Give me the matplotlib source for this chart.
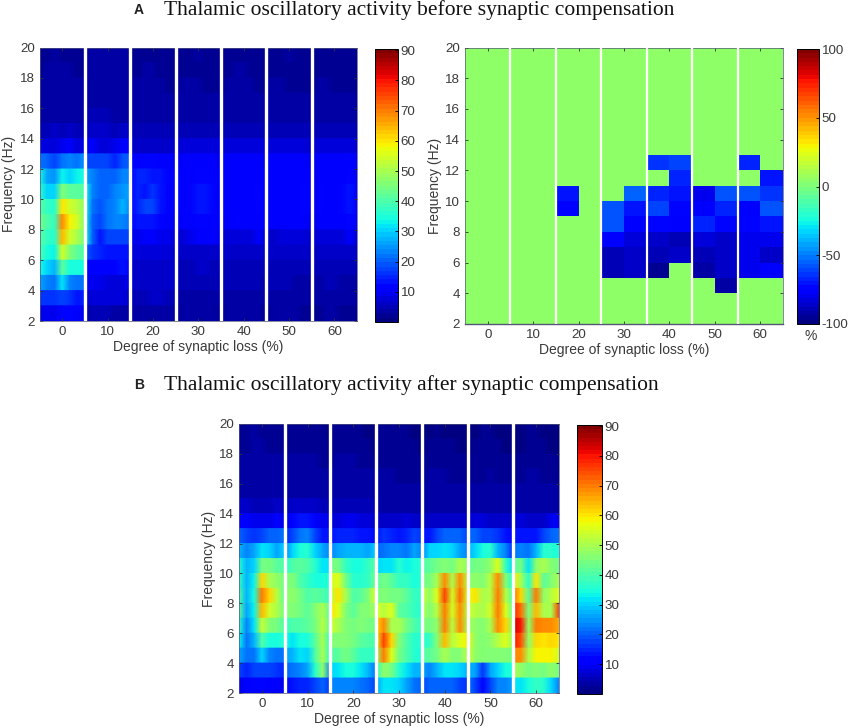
import numpy as np
import matplotlib
matplotlib.use('Agg')
import matplotlib.pyplot as plt

W, H = 851, 728

# every group: rows from the 19-20 Hz band down to the 2-3 Hz band
before_0 = [
    [2, 2, 3, 2, 2, 2, 2], [2, 3, 3, 3, 3, 2, 2], [3, 3, 3, 3, 3, 3, 3], [3, 3, 3, 3, 3, 3, 3],
    [3, 4, 4, 4, 4, 4, 3], [5, 5, 6, 5, 6, 5, 5], [9, 8, 8, 9, 10, 8, 9], [22, 20, 18, 22, 24, 22, 25],
    [34, 26, 25, 33, 30, 33, 35], [38, 31, 30, 46, 42, 42, 40], [42, 38, 36, 60, 54, 52, 48],
    [44, 40, 38, 68, 58, 54, 46], [42, 38, 36, 64, 54, 50, 44], [40, 35, 33, 55, 46, 42, 40],
    [35, 30, 28, 42, 34, 35, 35], [26, 23, 22, 32, 24, 22, 22], [16, 16, 16, 18, 16, 14, 15],
    [9, 9, 9, 12, 12, 10, 9]]
before_10 = [
    [3, 3, 3, 3, 3, 3, 3], [3, 3, 4, 4, 3, 3, 3], [3, 3, 4, 4, 3, 3, 3], [4, 4, 4, 4, 4, 4, 4],
    [5, 5, 5, 5, 4, 4, 4], [6, 6, 6, 6, 5, 6, 6], [9, 10, 8, 8, 9, 10, 10], [17, 18, 17, 17, 15, 19, 20],
    [26, 24, 20, 20, 21, 23, 24], [34, 24, 21, 20, 24, 25, 26], [34, 22, 19, 22, 24, 27, 24],
    [35, 21, 18, 22, 23, 24, 22], [35, 20, 14, 17, 17, 18, 18], [21, 16, 15, 14, 14, 14, 13],
    [12, 11, 11, 10, 10, 14, 11], [10, 9, 9, 8, 8, 8, 9], [7, 8, 8, 8, 8, 8, 7], [4, 5, 5, 5, 4, 4, 4]]
before_20 = [
    [2, 2, 2, 2, 2, 2, 2], [2, 2, 3, 3, 2, 2, 2], [3, 3, 3, 3, 3, 2, 2], [3, 3, 3, 3, 3, 3, 3],
    [4, 4, 4, 4, 3, 3, 3], [5, 5, 5, 5, 5, 5, 5], [7, 7, 7, 7, 7, 6, 6], [10, 11, 12, 12, 11, 10, 9],
    [11, 15, 15, 14, 14, 12, 10], [11, 15, 14, 16, 14, 11, 10], [11, 15, 17, 18, 14, 11, 10],
    [11, 13, 14, 14, 12, 10, 9], [9, 9, 11, 10, 9, 9, 8], [8, 8, 8, 8, 8, 8, 7], [7, 7, 7, 7, 7, 7, 6],
    [6, 7, 7, 6, 6, 6, 6], [5, 5, 5, 6, 6, 5, 5], [3, 3, 4, 4, 3, 3, 3]]
before_30 = [
    [2, 2, 2, 3, 2, 2, 2], [2, 2, 2, 2, 2, 2, 2], [2, 3, 3, 3, 2, 2, 2], [3, 3, 3, 3, 3, 3, 3],
    [3, 3, 3, 3, 3, 3, 3], [5, 5, 5, 5, 5, 5, 5], [7, 8, 8, 8, 8, 8, 8], [9, 10, 10, 10, 10, 10, 9],
    [10, 11, 11, 12, 12, 11, 10], [10, 11, 12, 13, 13, 12, 11], [10, 11, 12, 13, 13, 12, 11],
    [9, 10, 11, 12, 12, 11, 10], [7, 8, 9, 10, 10, 10, 9], [6, 6, 6, 7, 7, 6, 6], [5, 5, 5, 6, 6, 5, 5],
    [5, 5, 5, 5, 5, 5, 5], [4, 4, 4, 4, 4, 4, 4], [2, 3, 3, 3, 3, 3, 2]]
before_40 = [
    [2, 2, 2, 2, 2, 2, 2], [2, 2, 3, 3, 2, 2, 2], [2, 3, 3, 3, 3, 2, 2], [3, 3, 3, 3, 3, 3, 3],
    [3, 3, 3, 3, 3, 3, 3], [5, 5, 5, 5, 5, 5, 5], [8, 8, 8, 8, 8, 8, 8], [10, 10, 10, 10, 10, 10, 9],
    [10, 11, 10, 10, 11, 11, 10], [10, 11, 10, 10, 11, 12, 10], [10, 11, 10, 10, 11, 12, 10],
    [9, 10, 10, 10, 10, 11, 10], [7, 8, 8, 8, 8, 10, 7], [6, 6, 6, 6, 6, 6, 6], [5, 5, 5, 5, 5, 5, 5],
    [5, 5, 5, 5, 5, 5, 4], [4, 4, 4, 4, 4, 4, 4], [2, 3, 3, 3, 3, 3, 2]]
before_50 = [
    [2, 2, 2, 3, 2, 2, 2], [2, 2, 2, 2, 2, 2, 2], [3, 3, 3, 2, 2, 2, 2], [3, 3, 3, 3, 3, 3, 3],
    [3, 3, 3, 3, 3, 3, 3], [5, 5, 5, 5, 5, 5, 5], [8, 8, 8, 8, 8, 8, 7], [10, 10, 10, 10, 10, 10, 9],
    [10, 10, 10, 11, 11, 11, 10], [11, 10, 11, 11, 11, 12, 10], [11, 10, 11, 11, 11, 12, 10],
    [10, 10, 10, 10, 10, 11, 9], [7, 7, 8, 8, 8, 8, 7], [6, 6, 6, 6, 6, 6, 6], [5, 5, 5, 5, 5, 5, 5],
    [5, 5, 5, 5, 4, 4, 4], [4, 4, 4, 4, 4, 3, 3], [2, 3, 3, 3, 3, 2, 2]]
before_60 = [
    [2, 2, 2, 2, 2, 2, 2], [2, 2, 2, 2, 2, 2, 2], [2, 3, 3, 2, 2, 2, 2], [3, 3, 3, 3, 3, 3, 3],
    [3, 3, 3, 3, 3, 3, 3], [5, 5, 5, 5, 5, 5, 5], [7, 8, 8, 8, 8, 8, 8], [9, 10, 10, 10, 10, 10, 10],
    [9, 11, 11, 10, 11, 12, 11], [9, 12, 11, 10, 12, 13, 11], [9, 12, 11, 10, 12, 13, 11],
    [8, 11, 10, 10, 11, 12, 11], [6, 8, 8, 8, 8, 10, 8], [5, 6, 6, 6, 6, 6, 6], [5, 5, 5, 5, 5, 5, 5],
    [4, 4, 5, 5, 4, 4, 4], [3, 4, 4, 4, 4, 4, 4], [2, 2, 3, 3, 2, 2, 2]]

after_0 = [
    [2, 2, 3, 2, 2, 2, 2], [2, 2, 3, 3, 2, 2, 2], [3, 3, 3, 3, 3, 3, 3], [3, 3, 3, 3, 3, 3, 3],
    [4, 4, 4, 4, 4, 4, 4], [6, 6, 5, 5, 5, 6, 5], [11, 10, 9, 9, 9, 10, 9], [20, 18, 16, 18, 20, 20, 22],
    [28, 24, 26, 32, 30, 26, 30], [36, 28, 30, 44, 44, 42, 40], [38, 28, 33, 62, 50, 48, 44],
    [40, 28, 34, 70, 62, 52, 42], [42, 26, 33, 64, 55, 50, 44], [36, 24, 32, 53, 46, 44, 40],
    [33, 22, 28, 40, 34, 34, 36], [26, 22, 22, 30, 24, 22, 22], [18, 15, 17, 18, 18, 16, 15],
    [9, 10, 12, 12, 11, 10, 9]]
after_10 = [
    [2, 2, 2, 2, 2, 2, 1], [2, 2, 2, 2, 2, 2, 2], [3, 3, 3, 3, 3, 2, 2], [3, 3, 3, 3, 3, 3, 3],
    [4, 4, 4, 4, 4, 4, 4], [5, 6, 6, 6, 6, 5, 5], [9, 10, 13, 14, 11, 9, 9], [15, 17, 22, 24, 18, 14, 14],
    [24, 30, 34, 36, 30, 26, 24], [36, 40, 42, 40, 36, 32, 32], [44, 46, 40, 38, 34, 34, 36],
    [46, 48, 44, 40, 42, 40, 38], [46, 46, 44, 42, 46, 50, 42], [38, 40, 40, 42, 44, 52, 42],
    [34, 32, 34, 34, 42, 50, 36], [26, 28, 32, 30, 40, 50, 36], [20, 22, 24, 26, 36, 48, 24],
    [12, 14, 15, 15, 18, 20, 16]]
after_20 = [
    [2, 2, 2, 2, 2, 1, 1], [2, 2, 2, 2, 2, 2, 1], [2, 3, 3, 3, 2, 2, 2], [3, 3, 3, 3, 3, 3, 3],
    [4, 4, 4, 4, 4, 4, 4], [5, 5, 5, 5, 5, 5, 5], [8, 8, 9, 9, 8, 8, 7], [14, 15, 15, 15, 14, 13, 12],
    [24, 26, 28, 28, 28, 26, 30], [44, 44, 38, 34, 34, 38, 42], [54, 56, 44, 36, 36, 38, 44],
    [52, 60, 50, 40, 42, 46, 56], [60, 56, 46, 42, 46, 46, 50], [54, 50, 46, 44, 46, 44, 44],
    [46, 46, 46, 44, 42, 40, 40], [40, 42, 44, 42, 38, 38, 38], [30, 32, 34, 34, 32, 28, 22],
    [24, 24, 24, 24, 22, 20, 18]]
after_30 = [
    [2, 2, 2, 2, 2, 1, 1], [2, 2, 2, 2, 2, 2, 1], [2, 2, 2, 2, 2, 2, 2], [3, 3, 3, 2, 2, 2, 2],
    [3, 3, 3, 3, 3, 3, 3], [4, 4, 4, 4, 4, 4, 4], [7, 7, 7, 7, 8, 7, 7], [14, 16, 15, 14, 15, 18, 16],
    [20, 22, 24, 24, 22, 26, 24], [30, 32, 32, 36, 33, 34, 36], [40, 44, 42, 38, 38, 34, 36],
    [44, 46, 44, 44, 42, 38, 38], [56, 52, 56, 42, 40, 38, 36], [62, 68, 50, 50, 44, 40, 38],
    [56, 76, 62, 46, 40, 36, 36], [48, 70, 56, 44, 40, 36, 34], [36, 48, 44, 36, 32, 28, 28],
    [26, 32, 32, 30, 26, 22, 20]]
after_40 = [
    [1, 1, 2, 1, 1, 1, 1], [1, 2, 2, 2, 2, 1, 1], [2, 2, 2, 2, 2, 2, 2], [2, 3, 3, 3, 2, 2, 2],
    [3, 3, 3, 3, 3, 3, 3], [3, 3, 4, 4, 4, 3, 3], [6, 6, 6, 6, 7, 6, 6], [14, 14, 17, 20, 20, 20, 18],
    [24, 30, 30, 32, 30, 26, 24], [40, 42, 44, 46, 44, 50, 48], [44, 44, 50, 68, 50, 68, 52],
    [54, 48, 56, 76, 54, 72, 54], [52, 46, 52, 70, 54, 68, 52], [46, 44, 48, 70, 52, 68, 50],
    [36, 38, 46, 64, 52, 56, 58], [40, 42, 44, 50, 46, 46, 52], [26, 24, 28, 32, 32, 30, 28],
    [18, 20, 20, 20, 20, 17, 16]]
after_50 = [
    [1, 1, 2, 2, 1, 1, 1], [1, 2, 2, 2, 2, 1, 1], [2, 2, 2, 2, 2, 2, 2], [2, 2, 2, 3, 2, 2, 2],
    [3, 3, 3, 3, 3, 3, 3], [4, 4, 4, 4, 4, 3, 3], [7, 8, 8, 7, 7, 6, 6], [20, 20, 17, 18, 16, 14, 11],
    [28, 30, 34, 36, 28, 24, 15], [42, 44, 44, 48, 56, 38, 30], [46, 48, 46, 52, 68, 46, 36],
    [56, 60, 50, 52, 70, 52, 40], [54, 52, 50, 54, 70, 56, 42], [50, 48, 46, 50, 68, 62, 46],
    [58, 48, 46, 48, 52, 56, 48], [54, 48, 46, 46, 46, 46, 44], [28, 26, 16, 26, 30, 34, 34],
    [22, 18, 12, 18, 24, 24, 26]]
after_60 = [
    [1, 1, 2, 2, 1, 1, 1], [1, 1, 2, 2, 2, 1, 1], [2, 2, 2, 2, 2, 2, 2], [2, 2, 3, 3, 2, 2, 2],
    [3, 3, 3, 3, 3, 3, 3], [4, 4, 4, 4, 4, 4, 4], [8, 8, 7, 7, 7, 9, 11], [14, 14, 14, 14, 18, 20, 22],
    [22, 24, 22, 28, 36, 36, 34], [42, 44, 32, 48, 50, 46, 44], [60, 50, 36, 60, 42, 46, 50],
    [72, 62, 42, 70, 48, 52, 56], [78, 72, 44, 64, 50, 50, 76], [84, 80, 48, 70, 68, 68, 66],
    [80, 74, 48, 62, 60, 62, 60], [68, 68, 50, 58, 58, 58, 54], [50, 48, 44, 46, 44, 48, 44],
    [32, 32, 34, 38, 36, 30, 24]]

# percent change, two cells per loss degree; N means no significant change
N = 5
change_rows = [
    [N, N, N, N, N, N, N, N, N, N, N, N, N, N],
    [N, N, N, N, N, N, N, N, N, N, N, N, N, N],
    [N, N, N, N, N, N, N, N, N, N, N, N, N, N],
    [N, N, N, N, N, N, N, N, N, N, N, N, N, N],
    [N, N, N, N, N, N, N, N, N, N, N, N, N, N],
    [N, N, N, N, N, N, N, N, N, N, N, N, N, N],
    [N, N, N, N, N, N, N, N, N, N, N, N, N, N],
    [N, N, N, N, N, N, N, N, -64, -60, N, N, -66, N],
    [N, N, N, N, N, N, N, N, N, -68, N, N, N, -70],
    [N, N, N, N, -71, N, N, -54, -68, -70, -80, -57, -58, -63],
    [N, N, N, N, -76, N, -57, -70, -60, -75, -78, -66, -76, -58],
    [N, N, N, N, N, N, -58, -78, -72, -78, -68, -74, -75, -70],
    [N, N, N, N, N, N, -77, -84, -86, -88, -82, -87, -79, -80],
    [N, N, N, N, N, N, -90, -85, -88, -87, -90, -87, -80, -85],
    [N, N, N, N, N, N, -88, -86, -94, N, -92, -87, -80, -76],
    [N, N, N, N, N, N, N, N, N, N, N, -92, N, N],
    [N, N, N, N, N, N, N, N, N, N, N, N, N, N],
    [N, N, N, N, N, N, N, N, N, N, N, N, N, N]]

loss_ticks = [0, 10, 20, 30, 40, 50, 60]
freq_ticks = [2, 4, 6, 8, 10, 12, 14, 16, 18, 20]
power_ticks = [10, 20, 30, 40, 50, 60, 70, 80, 90]
change_ticks = [-100, -50, 0, 50, 100]

plt.rcParams['font.family'] = ['Liberation Sans', 'DejaVu Sans']
plt.rcParams['axes.unicode_minus'] = False
TXT = '#3a3a3a'
jet = plt.get_cmap('jet', 64)


def px_axes(fig, left, top, right, bottom):
    return fig.add_axes([left / W, 1 - bottom / H, (right - left) / W, (bottom - top) / H])


def dress(ax, gap_lw):
    for g in loss_ticks[:-1]:
        ax.axvline(g + 5, color='white', lw=gap_lw, zorder=5)
    ax.set_xlim(-5, 65)
    ax.set_ylim(2, 20)
    ax.set_xticks(loss_ticks)
    ax.set_yticks(freq_ticks)
    ax.tick_params(direction='in', length=2, width=0.6, labelsize=9.6, labelcolor=TXT, pad=3.5,
                   top=True, right=True, color='#333333')
    ax.set_xlabel('Degree of synaptic loss (%)', fontsize=10, color=TXT, labelpad=1.5)
    ax.set_ylabel('Frequency (Hz)', fontsize=10, color=TXT, labelpad=2.5)
    for s in ax.spines.values():
        s.set_linewidth(0.5)
        s.set_color('#55557a')


def smooth_panel(ax, groups):
    # each frequency band is its own strip, blended only along the x direction
    mesh = None
    for g, rows in zip(loss_ticks, groups):
        xs = np.linspace(g - 5, g + 5, len(rows[0]))
        for i, row in enumerate(rows):
            f = 19 - i
            mesh = ax.pcolormesh(xs, [f, f + 1], [row, row], shading='gouraud', cmap=jet,
                                 vmin=0, vmax=90.4)
    return mesh


def colorbar(fig, mesh, box, ticks):
    cax = px_axes(fig, *box)
    cb = fig.colorbar(mesh, cax=cax, ticks=ticks)
    cb.ax.tick_params(direction='in', length=2.5, width=0.6, labelsize=9.6, labelcolor=TXT, pad=2)
    cb.outline.set_linewidth(0.7)
    return cb


fig = plt.figure(figsize=(W / 100, H / 100), dpi=100)

# A, left
ax1 = px_axes(fig, 39.5, 47.5, 357, 321)
m1 = smooth_panel(ax1, [before_0, before_10, before_20, before_30, before_40, before_50, before_60])
dress(ax1, 2.4)
colorbar(fig, m1, (375, 49, 398, 322), power_ticks)

# A, right
ax2 = px_axes(fig, 465, 47.5, 783, 324)
x_edges = np.linspace(-5, 65, 15)
y_edges = np.arange(20, 1, -1)
m2 = ax2.pcolormesh(x_edges, y_edges, change_rows, cmap=jet, vmin=-100, vmax=100)
dress(ax2, 1.6)
ax2.spines['bottom'].set_linewidth(1.0)
colorbar(fig, m2, (797, 49, 819, 324), change_ticks)
fig.text(811 / W, 1 - 336 / H, '%', fontsize=10, color=TXT, ha='center', va='center')

# B
ax3 = px_axes(fig, 239, 424, 559, 693)
m3 = smooth_panel(ax3, [after_0, after_10, after_20, after_30, after_40, after_50, after_60])
dress(ax3, 2.4)
colorbar(fig, m3, (577, 425, 602, 694), power_ticks)

# panel titles
fig.text(134 / W, 1 - 10 / H, 'A', fontsize=10, fontweight='bold', color='#222222', va='center')
fig.text(164 / W, 1 - 10 / H, 'Thalamic oscillatory activity before synaptic compensation',
         fontsize=15.5, family='Liberation Serif', color='#111111', va='center')
fig.text(134 / W, 1 - 385 / H, 'B', fontsize=10, fontweight='bold', color='#222222', va='center')
fig.text(164 / W, 1 - 385 / H, 'Thalamic oscillatory activity after synaptic compensation',
         fontsize=15.5, family='Liberation Serif', color='#111111', va='center')

fig.savefig('out.png', dpi=100)
